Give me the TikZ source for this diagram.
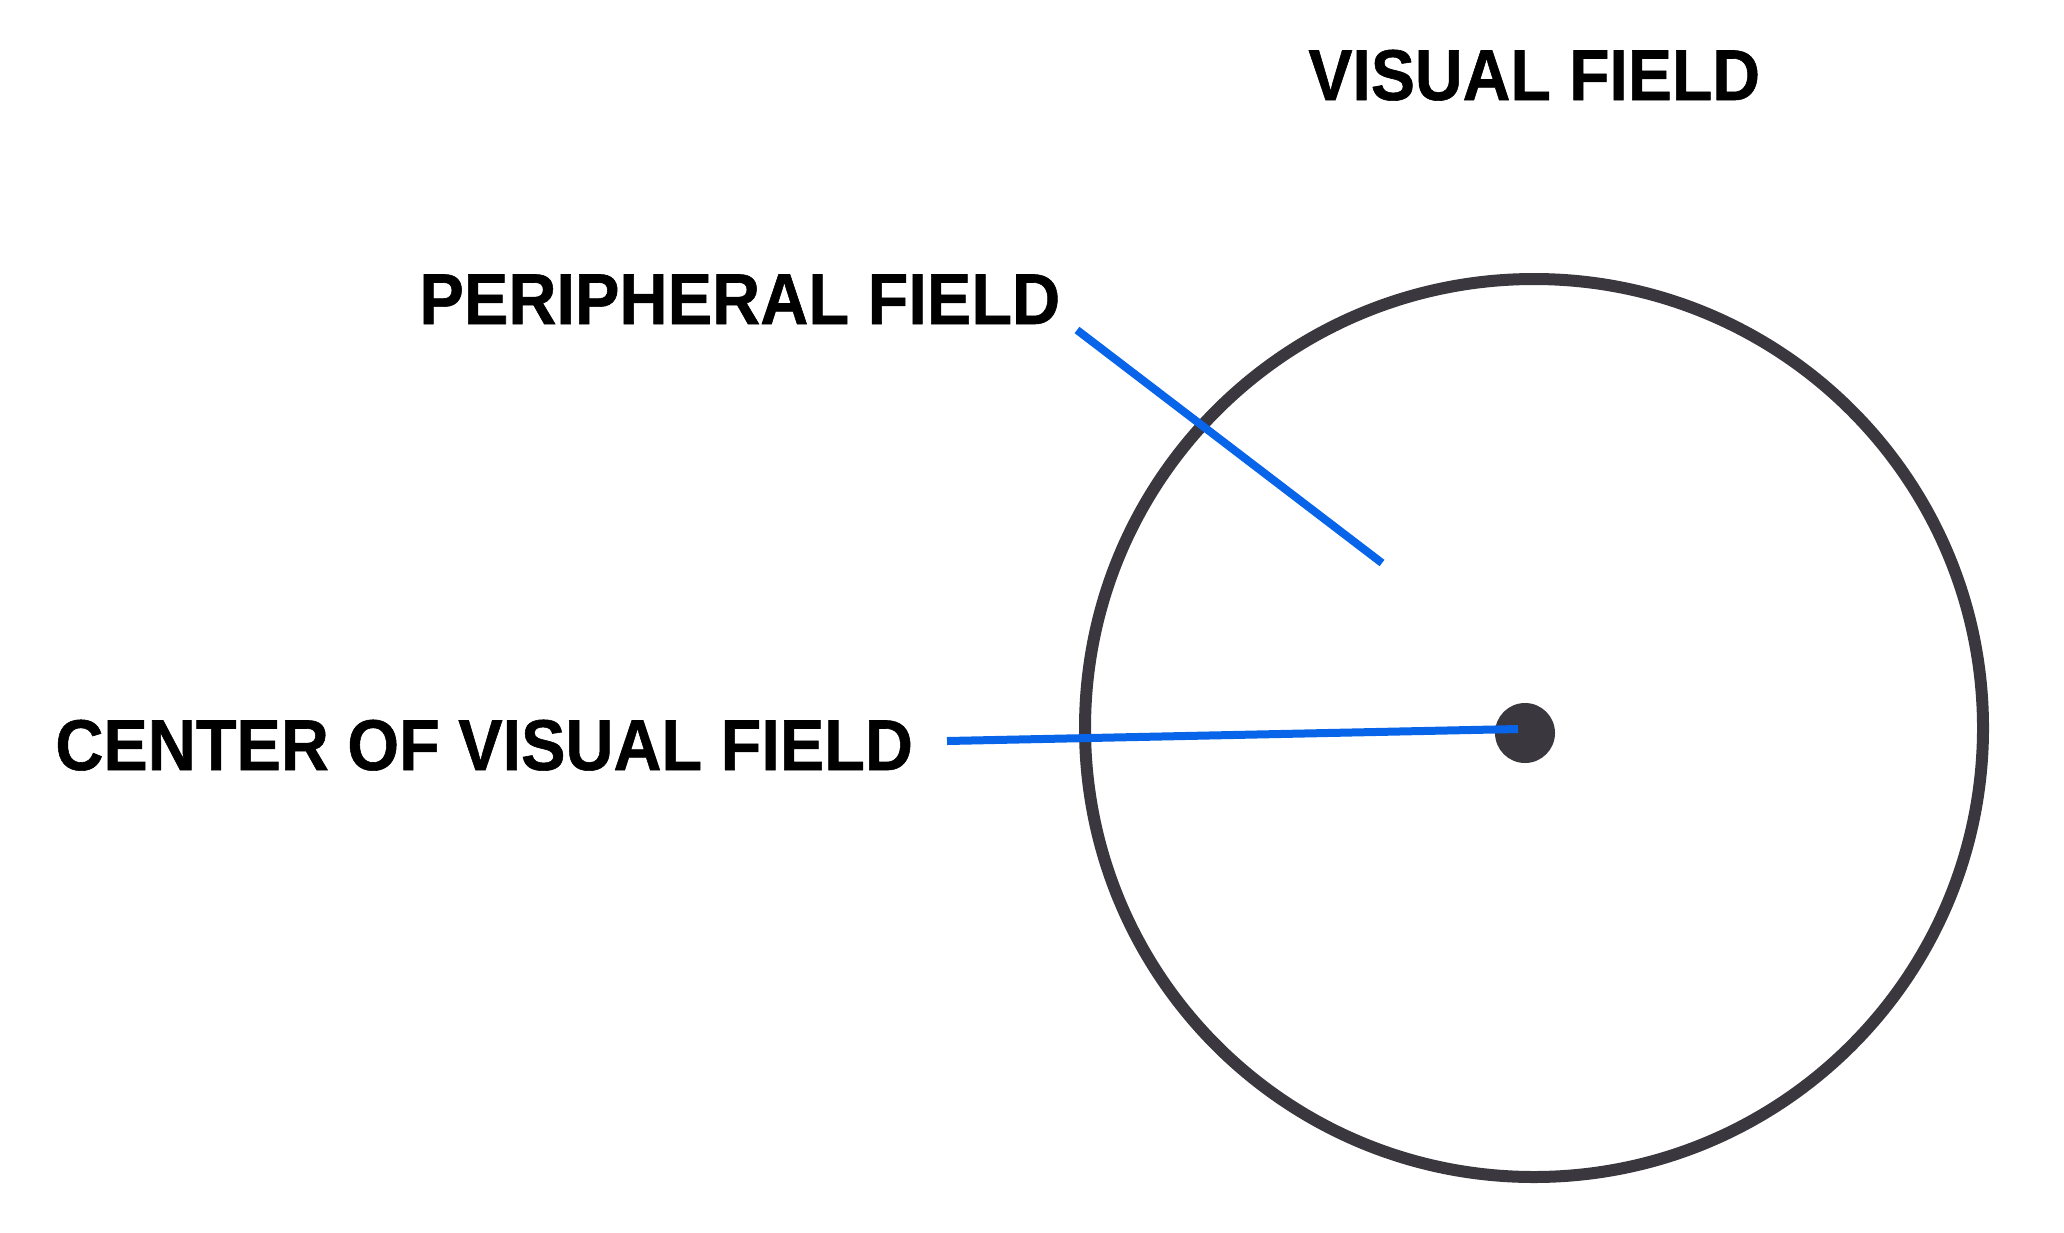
\documentclass[tikz,border=0pt]{standalone}
\usepackage{fontspec}
\setmainfont{Liberation Sans}[BoldFeatures={FakeBold=0.8}]
\definecolor{pointerblue}{RGB}{8,100,232}
\definecolor{pencil}{RGB}{58,56,62}
\begin{document}
\begin{tikzpicture}[x=0.5pt,y=-0.5pt,
  labeltext/.style={inner sep=0pt,anchor=base west,font=\fontsize{36}{43}\selectfont\bfseries},
  pointer/.style={draw=pointerblue,line width=4pt},
  fieldring/.style={draw=pencil,line width=6pt},
  fixation/.style={circle,fill=pencil,minimum size=30pt,inner sep=0pt}]
\useasboundingbox (0,0) rectangle (2064,1232);
\fill[white] (0,0) rectangle (2064,1232);
% labels
\node[labeltext] (title) at (1308,100) {\scalebox{0.918}[1]{VISUAL FIELD}};
\node[labeltext] (periph) at (419,324) {\scalebox{0.926}[1]{PERIPHERAL FIELD}};
\node[labeltext] (center) at (55,770) {\scalebox{0.924}[1]{CENTER OF VISUAL FIELD}};
% visual field ring
\node[circle,fieldring,minimum size=449pt,inner sep=0pt] (ring) at (1534,728) {};
\node[fixation] (dot) at (1525,733) {};
% pointers
\coordinate (pstart) at (1077,330);
\coordinate (pend) at (1382,563);
\coordinate (cstart) at (947,741);
\coordinate (cend) at (1518,729);
\draw[pointer] (pstart) -- (pend);
\draw[pointer] (cstart) -- (cend);
\end{tikzpicture}
\end{document}
